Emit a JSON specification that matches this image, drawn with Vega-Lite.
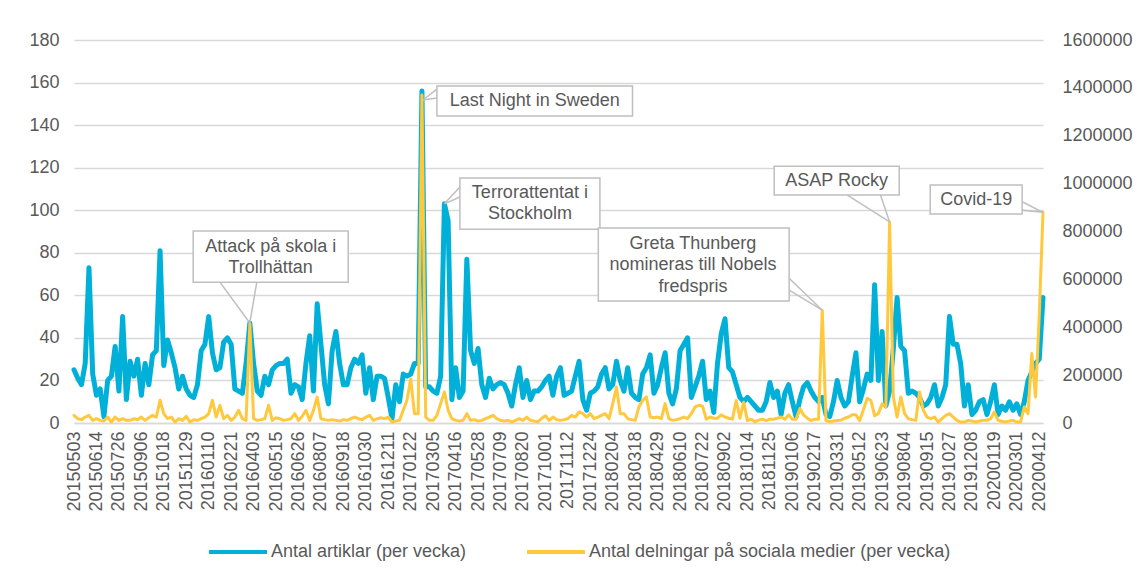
{
 "$schema": "https://vega.github.io/schema/vega-lite/v6.json",
 "width": 969,
 "height": 383,
 "autosize": {"type": "none"},
 "padding": {"left": 74, "top": 40, "right": 102, "bottom": 156},
 "background": "white",
 "config": {
  "font": "Liberation Sans",
  "view": {"stroke": null},
  "axis": {"labelFont": "Liberation Sans", "labelFontSize": 18, "labelColor": "#595959", "ticks": false, "domain": false, "title": null},
  "legend": {"labelFont": "Liberation Sans"}
 },
 "data": {
  "format": {"parse": {"d": "utc:'%Y%m%d'"}},
  "values": [
{"d":"20150503","a":25,"s":32000},{"d":"20150510","a":21,"s":18000},{"d":"20150517","a":18,"s":14000},{"d":"20150524","a":28,"s":25000},{"d":"20150531","a":73,"s":32000},{"d":"20150607","a":23,"s":11000},{"d":"20150614","a":13,"s":18000},{"d":"20150621","a":16,"s":11000},{"d":"20150628","a":3,"s":8000},{"d":"20150705","a":20,"s":25000},
{"d":"20150712","a":22,"s":4000},{"d":"20150719","a":36,"s":25000},{"d":"20150726","a":15,"s":11000},{"d":"20150802","a":50,"s":18000},{"d":"20150809","a":11,"s":11000},{"d":"20150816","a":29,"s":11000},{"d":"20150823","a":22,"s":18000},{"d":"20150830","a":30,"s":14000},{"d":"20150906","a":13,"s":25000},{"d":"20150913","a":28,"s":11000},
{"d":"20150920","a":18,"s":22000},{"d":"20150927","a":32,"s":32000},{"d":"20151004","a":34,"s":25000},{"d":"20151011","a":81,"s":95000},{"d":"20151018","a":27,"s":39000},{"d":"20151025","a":39,"s":18000},{"d":"20151101","a":33,"s":25000},{"d":"20151108","a":26,"s":4000},{"d":"20151115","a":16,"s":18000},{"d":"20151122","a":22,"s":11000},
{"d":"20151129","a":16,"s":28000},{"d":"20151206","a":13,"s":4000},{"d":"20151213","a":12,"s":14000},{"d":"20151220","a":18,"s":11000},{"d":"20151227","a":34,"s":18000},{"d":"20160103","a":37,"s":25000},{"d":"20160110","a":50,"s":39000},{"d":"20160117","a":33,"s":95000},{"d":"20160124","a":25,"s":25000},{"d":"20160131","a":26,"s":74000},
{"d":"20160207","a":38,"s":18000},{"d":"20160214","a":40,"s":32000},{"d":"20160221","a":37,"s":11000},{"d":"20160228","a":16,"s":25000},{"d":"20160306","a":15,"s":53000},{"d":"20160313","a":14,"s":18000},{"d":"20160320","a":28,"s":11000},{"d":"20160327","a":47,"s":415000},{"d":"20160403","a":28,"s":18000},{"d":"20160410","a":15,"s":11000},
{"d":"20160417","a":13,"s":14000},{"d":"20160424","a":22,"s":18000},{"d":"20160501","a":18,"s":74000},{"d":"20160508","a":25,"s":11000},{"d":"20160515","a":27,"s":22000},{"d":"20160522","a":28,"s":18000},{"d":"20160529","a":28,"s":11000},{"d":"20160605","a":30,"s":14000},{"d":"20160612","a":14,"s":18000},{"d":"20160619","a":18,"s":39000},
{"d":"20160626","a":17,"s":11000},{"d":"20160703","a":11,"s":28000},{"d":"20160710","a":28,"s":53000},{"d":"20160717","a":41,"s":11000},{"d":"20160724","a":15,"s":53000},{"d":"20160731","a":56,"s":109000},{"d":"20160807","a":37,"s":18000},{"d":"20160814","a":18,"s":14000},{"d":"20160821","a":9,"s":11000},{"d":"20160828","a":34,"s":14000},
{"d":"20160904","a":43,"s":11000},{"d":"20160911","a":28,"s":8000},{"d":"20160918","a":18,"s":14000},{"d":"20160925","a":18,"s":11000},{"d":"20161002","a":26,"s":18000},{"d":"20161009","a":30,"s":25000},{"d":"20161016","a":28,"s":18000},{"d":"20161023","a":32,"s":14000},{"d":"20161030","a":14,"s":25000},{"d":"20161106","a":26,"s":32000},
{"d":"20161113","a":11,"s":11000},{"d":"20161120","a":22,"s":18000},{"d":"20161127","a":22,"s":22000},{"d":"20161204","a":21,"s":18000},{"d":"20161211","a":12,"s":25000},{"d":"20161218","a":2,"s":4000},{"d":"20161225","a":18,"s":8000},{"d":"20170101","a":10,"s":11000},{"d":"20170108","a":23,"s":53000},{"d":"20170115","a":22,"s":95000},
{"d":"20170122","a":23,"s":185000},{"d":"20170129","a":28,"s":39000},{"d":"20170205","a":28,"s":39000},{"d":"20170212","a":156,"s":1370000},{"d":"20170219","a":17,"s":25000},{"d":"20170226","a":17,"s":11000},{"d":"20170305","a":15,"s":11000},{"d":"20170312","a":14,"s":32000},{"d":"20170319","a":22,"s":81000},{"d":"20170326","a":103,"s":130000},
{"d":"20170402","a":95,"s":53000},{"d":"20170409","a":11,"s":18000},{"d":"20170416","a":26,"s":11000},{"d":"20170423","a":12,"s":8000},{"d":"20170430","a":15,"s":11000},{"d":"20170507","a":77,"s":39000},{"d":"20170514","a":34,"s":11000},{"d":"20170521","a":28,"s":14000},{"d":"20170528","a":35,"s":8000},{"d":"20170604","a":18,"s":11000},
{"d":"20170611","a":12,"s":18000},{"d":"20170618","a":21,"s":25000},{"d":"20170625","a":16,"s":32000},{"d":"20170702","a":18,"s":18000},{"d":"20170709","a":19,"s":11000},{"d":"20170716","a":18,"s":8000},{"d":"20170723","a":14,"s":11000},{"d":"20170730","a":8,"s":4000},{"d":"20170806","a":18,"s":11000},{"d":"20170813","a":26,"s":18000},
{"d":"20170820","a":12,"s":11000},{"d":"20170827","a":20,"s":25000},{"d":"20170903","a":11,"s":11000},{"d":"20170910","a":15,"s":8000},{"d":"20170917","a":15,"s":4000},{"d":"20170924","a":17,"s":20000},{"d":"20171001","a":20,"s":30000},{"d":"20171008","a":22,"s":11000},{"d":"20171015","a":13,"s":25000},{"d":"20171022","a":22,"s":14000},
{"d":"20171029","a":26,"s":11000},{"d":"20171105","a":13,"s":14000},{"d":"20171112","a":14,"s":18000},{"d":"20171119","a":15,"s":32000},{"d":"20171126","a":22,"s":25000},{"d":"20171203","a":29,"s":46000},{"d":"20171210","a":11,"s":39000},{"d":"20171217","a":6,"s":25000},{"d":"20171224","a":14,"s":39000},{"d":"20171231","a":15,"s":18000},
{"d":"20180107","a":17,"s":25000},{"d":"20180114","a":23,"s":32000},{"d":"20180121","a":26,"s":39000},{"d":"20180128","a":16,"s":18000},{"d":"20180204","a":18,"s":81000},{"d":"20180211","a":29,"s":150000},{"d":"20180218","a":20,"s":39000},{"d":"20180225","a":15,"s":39000},{"d":"20180304","a":26,"s":18000},{"d":"20180311","a":14,"s":14000},
{"d":"20180318","a":12,"s":11000},{"d":"20180325","a":11,"s":67000},{"d":"20180401","a":23,"s":95000},{"d":"20180408","a":26,"s":109000},{"d":"20180415","a":32,"s":25000},{"d":"20180422","a":14,"s":22000},{"d":"20180429","a":18,"s":25000},{"d":"20180506","a":26,"s":18000},{"d":"20180513","a":33,"s":81000},{"d":"20180520","a":14,"s":18000},
{"d":"20180527","a":9,"s":11000},{"d":"20180603","a":16,"s":14000},{"d":"20180610","a":34,"s":18000},{"d":"20180617","a":37,"s":25000},{"d":"20180624","a":40,"s":18000},{"d":"20180701","a":12,"s":39000},{"d":"20180708","a":17,"s":67000},{"d":"20180715","a":22,"s":74000},{"d":"20180722","a":29,"s":70000},{"d":"20180729","a":11,"s":16000},
{"d":"20180805","a":15,"s":25000},{"d":"20180812","a":5,"s":20000},{"d":"20180819","a":28,"s":20000},{"d":"20180826","a":42,"s":34000},{"d":"20180902","a":49,"s":25000},{"d":"20180909","a":26,"s":20000},{"d":"20180916","a":24,"s":16000},{"d":"20180923","a":18,"s":94000},{"d":"20180930","a":12,"s":20000},{"d":"20181007","a":10,"s":87000},
{"d":"20181014","a":12,"s":10000},{"d":"20181021","a":10,"s":16000},{"d":"20181028","a":8,"s":5000},{"d":"20181104","a":6,"s":12000},{"d":"20181111","a":6,"s":16000},{"d":"20181118","a":10,"s":10000},{"d":"20181125","a":19,"s":16000},{"d":"20181202","a":12,"s":16000},{"d":"20181209","a":15,"s":20000},{"d":"20181216","a":4,"s":25000},
{"d":"20181223","a":14,"s":16000},{"d":"20181230","a":18,"s":34000},{"d":"20190106","a":10,"s":16000},{"d":"20190113","a":3,"s":16000},{"d":"20190120","a":11,"s":60000},{"d":"20190127","a":17,"s":34000},{"d":"20190203","a":19,"s":20000},{"d":"20190210","a":15,"s":10000},{"d":"20190217","a":12,"s":16000},{"d":"20190224","a":10,"s":16000},
{"d":"20190303","a":12,"s":471000},{"d":"20190310","a":4,"s":10000},{"d":"20190317","a":3,"s":5000},{"d":"20190324","a":10,"s":8000},{"d":"20190331","a":20,"s":10000},{"d":"20190407","a":12,"s":12000},{"d":"20190414","a":8,"s":20000},{"d":"20190421","a":10,"s":25000},{"d":"20190428","a":22,"s":34000},{"d":"20190505","a":33,"s":34000},
{"d":"20190512","a":10,"s":10000},{"d":"20190519","a":16,"s":55000},{"d":"20190526","a":23,"s":103000},{"d":"20190602","a":20,"s":95000},{"d":"20190609","a":65,"s":30000},{"d":"20190616","a":20,"s":40000},{"d":"20190623","a":43,"s":80000},{"d":"20190630","a":8,"s":67000},{"d":"20190707","a":15,"s":840000},{"d":"20190714","a":35,"s":109000},
{"d":"20190721","a":59,"s":25000},{"d":"20190728","a":36,"s":109000},{"d":"20190804","a":34,"s":39000},{"d":"20190811","a":14,"s":18000},{"d":"20190818","a":15,"s":14000},{"d":"20190825","a":14,"s":11000},{"d":"20190901","a":12,"s":130000},{"d":"20190908","a":8,"s":53000},{"d":"20190915","a":9,"s":25000},{"d":"20190922","a":12,"s":18000},
{"d":"20190929","a":18,"s":25000},{"d":"20191006","a":8,"s":4000},{"d":"20191013","a":12,"s":18000},{"d":"20191020","a":18,"s":32000},{"d":"20191027","a":50,"s":39000},{"d":"20191103","a":37,"s":25000},{"d":"20191110","a":37,"s":11000},{"d":"20191117","a":28,"s":4000},{"d":"20191124","a":8,"s":4000},{"d":"20191201","a":18,"s":11000},
{"d":"20191208","a":4,"s":8000},{"d":"20191215","a":6,"s":4000},{"d":"20191222","a":10,"s":8000},{"d":"20191229","a":11,"s":11000},{"d":"20200105","a":4,"s":11000},{"d":"20200112","a":10,"s":18000},{"d":"20200119","a":18,"s":46000},{"d":"20200126","a":4,"s":11000},{"d":"20200202","a":8,"s":7000},{"d":"20200209","a":6,"s":4000},
{"d":"20200216","a":10,"s":8000},{"d":"20200223","a":6,"s":11000},{"d":"20200301","a":9,"s":4000},{"d":"20200308","a":4,"s":4000},{"d":"20200315","a":10,"s":67000},{"d":"20200322","a":20,"s":39000},{"d":"20200329","a":24,"s":290000},{"d":"20200405","a":28,"s":109000},{"d":"20200412","a":30,"s":450000},{"d":"20200419","a":59,"s":880000}
  ]
 },
 "encoding": {
  "x": {
   "field": "d", "type": "temporal", "title": null,
   "scale": {"type": "utc", "nice": false, "domain": [{"year": 2015, "month": 5, "date": 3, "utc": true}, {"year": 2020, "month": 4, "date": 19, "utc": true}]},
   "axis": {
    "format": "%Y%m%d", "labelAngle": 270, "labelOverlap": false, "labelFlush": false, "labelPadding": 8,
    "domain": true, "domainColor": "#d9d9d9", "domainWidth": 1.5, "grid": false, "title": null,
    "values": [
     {"year":2015,"month":5,"date":3,"utc":true},{"year":2015,"month":6,"date":14,"utc":true},{"year":2015,"month":7,"date":26,"utc":true},{"year":2015,"month":9,"date":6,"utc":true},{"year":2015,"month":10,"date":18,"utc":true},{"year":2015,"month":11,"date":29,"utc":true},
     {"year":2016,"month":1,"date":10,"utc":true},{"year":2016,"month":2,"date":21,"utc":true},{"year":2016,"month":4,"date":3,"utc":true},{"year":2016,"month":5,"date":15,"utc":true},{"year":2016,"month":6,"date":26,"utc":true},{"year":2016,"month":8,"date":7,"utc":true},{"year":2016,"month":9,"date":18,"utc":true},{"year":2016,"month":10,"date":30,"utc":true},{"year":2016,"month":12,"date":11,"utc":true},
     {"year":2017,"month":1,"date":22,"utc":true},{"year":2017,"month":3,"date":5,"utc":true},{"year":2017,"month":4,"date":16,"utc":true},{"year":2017,"month":5,"date":28,"utc":true},{"year":2017,"month":7,"date":9,"utc":true},{"year":2017,"month":8,"date":20,"utc":true},{"year":2017,"month":10,"date":1,"utc":true},{"year":2017,"month":11,"date":12,"utc":true},{"year":2017,"month":12,"date":24,"utc":true},
     {"year":2018,"month":2,"date":4,"utc":true},{"year":2018,"month":3,"date":18,"utc":true},{"year":2018,"month":4,"date":29,"utc":true},{"year":2018,"month":6,"date":10,"utc":true},{"year":2018,"month":7,"date":22,"utc":true},{"year":2018,"month":9,"date":2,"utc":true},{"year":2018,"month":10,"date":14,"utc":true},{"year":2018,"month":11,"date":25,"utc":true},
     {"year":2019,"month":1,"date":6,"utc":true},{"year":2019,"month":2,"date":17,"utc":true},{"year":2019,"month":3,"date":31,"utc":true},{"year":2019,"month":5,"date":12,"utc":true},{"year":2019,"month":6,"date":23,"utc":true},{"year":2019,"month":8,"date":4,"utc":true},{"year":2019,"month":9,"date":15,"utc":true},{"year":2019,"month":10,"date":27,"utc":true},{"year":2019,"month":12,"date":8,"utc":true},
     {"year":2020,"month":1,"date":19,"utc":true},{"year":2020,"month":3,"date":1,"utc":true},{"year":2020,"month":4,"date":12,"utc":true}
    ]
   }
  }
 },
 "layer": [
  {
   "mark": {"type": "line", "strokeWidth": 5, "strokeJoin": "round", "strokeCap": "round"},
   "encoding": {
    "y": {
     "field": "a", "type": "quantitative",
     "scale": {"domain": [0, 180], "nice": false},
     "axis": {"values": [0, 20, 40, 60, 80, 100, 120, 140, 160, 180], "grid": true, "gridColor": "#d9d9d9", "gridWidth": 1.5, "labelPadding": 15}
    },
    "color": {
     "datum": "Antal artiklar (per vecka)", "type": "nominal",
     "scale": {"domain": ["Antal artiklar (per vecka)", "Antal delningar på sociala medier (per vecka)"], "range": ["#00B0D8", "#FFC83D"]},
     "legend": {
      "orient": "none", "legendX": 133, "legendY": 481, "direction": "horizontal", "title": null,
      "symbolType": "stroke", "symbolSize": 3364, "symbolStrokeWidth": 4,
      "labelFontSize": 18, "labelColor": "#595959", "labelLimit": 600, "labelOffset": 2, "columnPadding": 52, "padding": 0
     }
    }
   }
  },
  {
   "mark": {"type": "line", "strokeWidth": 3, "strokeJoin": "round", "strokeCap": "round"},
   "encoding": {
    "y": {
     "field": "s", "type": "quantitative",
     "scale": {"domain": [0, 1600000], "nice": false},
     "axis": {"orient": "right", "values": [0, 200000, 400000, 600000, 800000, 1000000, 1200000, 1400000, 1600000], "format": "d", "grid": false, "labelPadding": 19}
    },
    "color": {"datum": "Antal delningar på sociala medier (per vecka)", "type": "nominal"}
   }
  },
  {
   "layer": [
    {
     "data": {
      "format": {"parse": {"d": "utc:'%Y%m%d'", "e": "utc:'%Y%m%d'"}},
      "values": [
       {"d": "20151212", "e": "20160927", "top": 90.2, "bottom": 66.2},
       {"d": "20170312", "e": "20180313", "top": 158.4, "bottom": 144.3},
       {"d": "20170424", "e": "20180111", "top": 115.1, "bottom": 91.1},
       {"d": "20180108", "e": "20181231", "top": 91.6, "bottom": 57.3},
       {"d": "20181203", "e": "20190725", "top": 120.7, "bottom": 107.1},
       {"d": "20190921", "e": "20200311", "top": 111.8, "bottom": 98.2}
      ]
     },
     "mark": {"type": "rect", "fill": "white", "stroke": "#bfbfbf", "strokeWidth": 1.5},
     "encoding": {
      "x2": {"field": "e"},
      "y": {"field": "top", "type": "quantitative", "scale": {"domain": [0, 180], "nice": false}, "axis": null},
      "y2": {"field": "bottom"}
     }
    },
    {
     "data": {
      "format": {"parse": {"d": "utc:'%Y%m%d'", "e": "utc:'%Y%m%d'"}},
      "values": [
       {"d": "20160131", "v1": 66.2, "e": "20160327", "v2": 47},
       {"d": "20160409", "v1": 66.2, "e": "20160327", "v2": 47},
       {"d": "20170312", "v1": 156.9, "e": "20170214", "v2": 151.8},
       {"d": "20170312", "v1": 152.7, "e": "20170214", "v2": 151.8},
       {"d": "20170424", "v1": 110.9, "e": "20170326", "v2": 103},
       {"d": "20170424", "v1": 106.2, "e": "20170326", "v2": 103},
       {"d": "20181231", "v1": 68.0, "e": "20190303", "v2": 53},
       {"d": "20181231", "v1": 62.4, "e": "20190303", "v2": 53},
       {"d": "20190419", "v1": 107.1, "e": "20190707", "v2": 94.5},
       {"d": "20190620", "v1": 107.1, "e": "20190707", "v2": 94.5},
       {"d": "20200311", "v1": 104.0, "e": "20200419", "v2": 99.0},
       {"d": "20200311", "v1": 100.0, "e": "20200419", "v2": 99.0}
      ]
     },
     "mark": {"type": "rule", "stroke": "#bfbfbf", "strokeWidth": 1.5},
     "encoding": {
      "x2": {"field": "e"},
      "y": {"field": "v1", "type": "quantitative", "scale": {"domain": [0, 180], "nice": false}, "axis": null},
      "y2": {"field": "v2"}
     }
    },
    {
     "data": {
      "format": {"parse": {"d": "utc:'%Y%m%d'"}},
      "values": [
       {"d": "20160505", "v": 82.5, "t": "Attack på skola i"},
       {"d": "20160505", "v": 72.8, "t": "Trollhättan"},
       {"d": "20170911", "v": 151.3, "t": "Last Night in Sweden"},
       {"d": "20170902", "v": 108.1, "t": "Terrorattentat i"},
       {"d": "20170902", "v": 98.2, "t": "Stockholm"},
       {"d": "20180704", "v": 84.0, "t": "Greta Thunberg"},
       {"d": "20180704", "v": 74.2, "t": "nomineras till Nobels"},
       {"d": "20180704", "v": 63.8, "t": "fredspris"},
       {"d": "20190330", "v": 113.7, "t": "ASAP Rocky"},
       {"d": "20191216", "v": 104.8, "t": "Covid-19"}
      ]
     },
     "mark": {"type": "text", "font": "Liberation Sans", "fontSize": 18, "color": "#595959", "align": "center", "baseline": "middle"},
     "encoding": {
      "y": {"field": "v", "type": "quantitative", "scale": {"domain": [0, 180], "nice": false}, "axis": null},
      "text": {"field": "t"}
     }
    }
   ]
  }
 ],
 "resolve": {"scale": {"y": "independent"}}
}
